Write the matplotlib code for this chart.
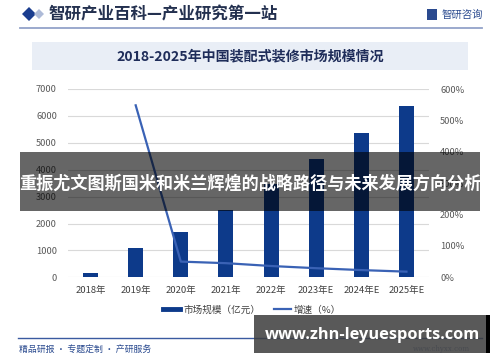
import matplotlib
matplotlib.use("Agg")
import matplotlib.pyplot as plt
from matplotlib.patches import Rectangle, Polygon
from matplotlib.lines import Line2D

plt.rcParams['font.family'] = ['Noto Sans CJK SC', 'DejaVu Sans']

years = ["2018年", "2019年", "2020年", "2021年", "2022年", "2023年E", "2024年E", "2025年E"]
market_size = [175, 1100, 1690, 2500, 3460, 4390, 5375, 6370]
growth_years = ["2019年", "2020年", "2021年", "2022年", "2023年E", "2024年E", "2025年E"]
growth_rate = [548, 50, 45, 36, 29, 23, 18]
left_ticks = [0, 1000, 2000, 3000, 4000, 5000, 6000, 7000]
right_ticks = [0, 100, 200, 300, 400, 500, 600]

W, H = 500, 362
fig = plt.figure(figsize=(W / 100, H / 100), dpi=100)
fig.patch.set_facecolor("white")

def fx(x):
    return x / W

def fy(y):
    return 1 - y / H

BAR_C = "#0d3a8a"
LINE_C = "#3a62b5"

ax = fig.add_axes([fx(68), fy(277.3), fx(429) - fx(68), fy(89) - fy(277.3)])
xs = list(range(len(years)))
ax.bar(xs, market_size, width=0.33, color=BAR_C, zorder=3)
ax.set_xlim(-0.5, len(years) - 0.5)
ax.set_ylim(0, 7000)
ax.set_yticks(left_ticks)
ax.set_yticklabels([str(t) for t in left_ticks])
ax.set_xticks(xs)
ax.set_xticklabels(years)
ax.grid(axis="y", color="#d9d9d9", linewidth=0.8, zorder=0)
ax.set_axisbelow(True)
for s in ax.spines.values():
    s.set_visible(False)
ax.tick_params(axis="both", length=0)
ax.tick_params(axis="y", labelsize=6.7, labelcolor="#595959", pad=8)
ax.tick_params(axis="x", labelsize=6.8, labelcolor="#404040", pad=6)

ax2 = ax.twinx()
gx = [years.index(g) for g in growth_years]
ax2.plot(gx, growth_rate, color=LINE_C, linewidth=1.6, zorder=4)
ax2.set_ylim(0, 600)
ax2.set_yticks(right_ticks)
ax2.set_yticklabels([f"{t}%" for t in right_ticks])
for s in ax2.spines.values():
    s.set_visible(False)
ax2.tick_params(axis="y", length=0, labelsize=6.7, labelcolor="#595959", pad=8)

handles = [Line2D([0], [0], color=BAR_C, linewidth=3.5),
           Line2D([0], [0], color=LINE_C, linewidth=1.6)]
fig.legend(handles, ["市场规模（亿元）", "增速（%）"], loc="center",
           bbox_to_anchor=(fx(252), fy(310)), ncol=2, frameon=False,
           fontsize=6.9, handlelength=1.8, handletextpad=0.3, columnspacing=1.4,
           labelcolor="#404040")

# header
fig.add_artist(Polygon([[fx(22), fy(14)], [fx(29), fy(7)], [fx(36), fy(14)], [fx(29), fy(21)]],
                       closed=True, transform=fig.transFigure, facecolor="#1a3d8f", edgecolor="none"))
fig.add_artist(Polygon([[fx(34), fy(14)], [fx(39), fy(9)], [fx(44), fy(14)], [fx(39), fy(19)]],
                       closed=True, transform=fig.transFigure, facecolor="#aebbd8", edgecolor="none"))
fig.text(fx(49), fy(14), "智研产业百科—产业研究第一站", fontsize=11.9, fontweight="bold",
         color="#23304f", ha="left", va="center")
fig.add_artist(Rectangle((fx(427), fy(20)), fx(10), fy(9) - fy(20), transform=fig.transFigure,
                         facecolor="#2a4a8f", edgecolor="none"))
fig.text(fx(442), fy(15), "智研咨询", fontsize=7.5, color="#2a4a8f", ha="left", va="center")
fig.add_artist(Line2D([fx(20), fx(482)], [fy(28), fy(28)], transform=fig.transFigure,
                      color="#93a3c9", linewidth=1.3))

# title box
fig.add_artist(Rectangle((fx(32), fy(70)), fx(468) - fx(32), fy(42) - fy(70),
                         transform=fig.transFigure, facecolor="#e9eef6", edgecolor="none"))
fig.text(fx(250), fy(56), "2018-2025年中国装配式装修市场规模情况", fontsize=10.1,
         fontweight="bold", color="#1f2d5a", ha="center", va="center")

# footer
fig.add_artist(Line2D([fx(18), fx(482)], [fy(338.3), fy(338.3)], transform=fig.transFigure,
                      color="#3a5aa0", linewidth=1.0))
fig.text(fx(19), fy(349), "精品研报 · 专题定制 · 产研服务", fontsize=6.4, color="#2a4a8f",
         ha="left", va="center")
fig.text(fx(470), fy(349), "www.chyxx.com", fontsize=5, color="#8a9bbf", ha="right",
         va="center", family="DejaVu Serif")

# overlay banner
fig.add_artist(Rectangle((fx(20), fy(211)), fx(480) - fx(20), fy(152) - fy(211),
                         transform=fig.transFigure, facecolor="black", alpha=0.6,
                         edgecolor="none", zorder=10))
fig.text(fx(250), fy(184), "重振尤文图斯国米和米兰辉煌的战略路径与未来发展方向分析",
         fontsize=12.3, fontweight="bold", color="white", ha="center", va="center", zorder=11)

# bottom banner
fig.add_artist(Rectangle((fx(254), fy(352.7)), fx(486) - fx(254), fy(315) - fy(352.7),
                         transform=fig.transFigure, facecolor="#3c3c3c", alpha=0.85,
                         edgecolor="none", zorder=10))
fig.add_artist(Rectangle((fx(486), fy(352.7)), fx(490) - fx(486), fy(315) - fy(352.7),
                         transform=fig.transFigure, facecolor="black", edgecolor="none", zorder=10))
fig.text(fx(372), fy(335), "www.zhn-leyuesports.com", fontsize=11.8, fontweight="bold",
         color="white", ha="center", va="center", zorder=11, family="Open Sans")

fig.savefig("out.png", dpi=100, facecolor="white")
